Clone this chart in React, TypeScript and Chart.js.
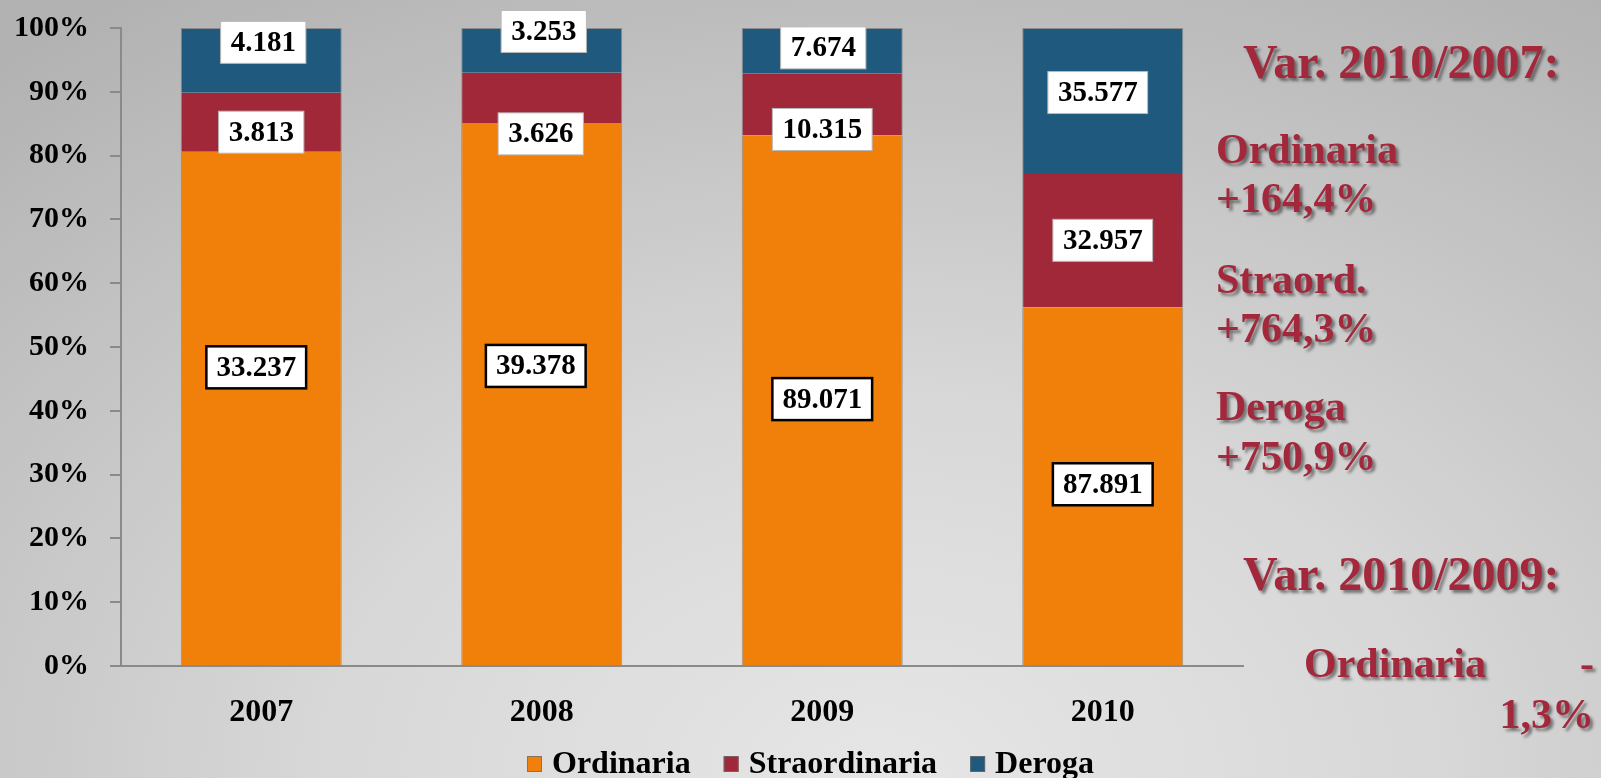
import React, { useEffect, useRef } from 'react';
import { Chart, registerables } from 'chart.js';

Chart.register(...registerables);

// ---- data ----
const categories = ['2007', '2008', '2009', '2010'];
const seriesNames = ['Ordinaria', 'Straordinaria', 'Deroga'];
const ordinaria = [33237, 39378, 89071, 87891];
const straordinaria = [3813, 3626, 10315, 32957];
const deroga = [4181, 3253, 7674, 35577];
const seriesColors = ['#F0800A', '#A02838', '#1F5A7E'];

const noteTitle1 = 'Var. 2010/2007:';
const noteItems1 = [
  ['Ordinaria', '+164,4%'],
  ['Straord.', '+764,3%'],
  ['Deroga', '+750,9%'],
];
const noteTitle2 = 'Var. 2010/2009:';
const noteItem2 = ['Ordinaria', '-', '1,3%'];

const SERIF = '"Liberation Serif", "Times New Roman", serif';

function fmt(v: number) {
  return String(v).replace(/\B(?=(\d{3})+(?!\d))/g, '.');
}

const rawSeries = [ordinaria, straordinaria, deroga];
const totals = categories.map((_, i) => ordinaria[i] + straordinaria[i] + deroga[i]);

const valueLabelPlugin = {
  id: 'valueLabels',
  afterDatasetsDraw(chart: any, _args: any, opts: any) {
    const ctx = chart.ctx;
    const nudgeX = opts.nudgeX || [];
    const nudgeY = opts.nudgeY || [];
    ctx.save();
    ctx.font = 'bold 29px ' + SERIF;
    ctx.textAlign = 'center';
    ctx.textBaseline = 'middle';
    chart.data.datasets.forEach((ds: any, d: number) => {
      const meta = chart.getDatasetMeta(d);
      meta.data.forEach((el: any, i: number) => {
        const txt = fmt(ds.rawValues[i]);
        const cx = el.x + ((nudgeX[d] && nudgeX[d][i]) || 0);
        const cy = (el.y + el.base) / 2 + ((nudgeY[d] && nudgeY[d][i]) || 0);
        const w = ctx.measureText(txt).width + 20;
        const h = 42;
        ctx.fillStyle = '#ffffff';
        ctx.fillRect(cx - w / 2, cy - h / 2, w, h);
        if (d === 0) {
          ctx.strokeStyle = '#000000';
          ctx.lineWidth = 2.5;
        } else {
          ctx.strokeStyle = '#b8b8b8';
          ctx.lineWidth = 1;
        }
        ctx.strokeRect(cx - w / 2, cy - h / 2, w, h);
        ctx.fillStyle = '#000000';
        ctx.fillText(txt, cx, cy + 1);
      });
    });
    ctx.restore();
  },
};

const legendPlugin = {
  id: 'customLegend',
  afterDraw(chart: any, _args: any, opts: any) {
    const ctx = chart.ctx;
    ctx.save();
    ctx.font = 'bold 32px ' + SERIF;
    ctx.textBaseline = 'alphabetic';
    ctx.textAlign = 'left';
    let x = opts.x;
    const y = opts.y;
    chart.data.datasets.forEach((ds: any) => {
      ctx.fillStyle = ds.backgroundColor;
      ctx.fillRect(x, y - 17, 15, 16);
      ctx.strokeStyle = 'rgba(110,110,110,0.8)';
      ctx.lineWidth = 1;
      ctx.strokeRect(x + 0.5, y - 16.5, 14, 15);
      x += 25;
      ctx.fillStyle = '#000';
      ctx.fillText(ds.label, x, y);
      x += ctx.measureText(ds.label).width + 33;
    });
    ctx.restore();
  },
};

const notesPlugin = {
  id: 'notes',
  afterDraw(chart: any) {
    const ctx = chart.ctx;
    ctx.save();
    ctx.fillStyle = '#A3283B';
    ctx.shadowColor = 'rgba(0,0,0,0.45)';
    ctx.shadowOffsetX = 3;
    ctx.shadowOffsetY = 3;
    ctx.shadowBlur = 3;
    ctx.textBaseline = 'alphabetic';
    ctx.textAlign = 'left';
    ctx.font = 'bold 48px ' + SERIF;
    ctx.fillText(noteTitle1, 1243, 78);
    ctx.font = 'bold 42px ' + SERIF;
    const bases = [[163, 212], [293, 342], [420, 470]];
    noteItems1.forEach((pair, k) => {
      ctx.fillText(pair[0], 1216, bases[k][0]);
      ctx.fillText(pair[1], 1216, bases[k][1]);
    });
    ctx.font = 'bold 48px ' + SERIF;
    ctx.fillText(noteTitle2, 1243, 590);
    ctx.font = 'bold 42px ' + SERIF;
    ctx.fillText(noteItem2[0], 1304, 677);
    ctx.textAlign = 'right';
    ctx.fillText(noteItem2[1], 1594, 677);
    ctx.fillText(noteItem2[2], 1594, 728);
    ctx.restore();
  },
};

export default function App() {
  const canvasRef = useRef<HTMLCanvasElement | null>(null);

  useEffect(() => {
    const canvas = canvasRef.current;
    if (!canvas) return;
    const datasets = rawSeries.map((vals, d) => ({
      label: seriesNames[d],
      data: vals.map((v, i) => (v / totals[i]) * 100),
      rawValues: vals,
      backgroundColor: seriesColors[d],
      borderColor: 'rgba(120,120,120,0.7)',
      borderWidth: { left: 1, right: 1, top: d === 2 ? 1 : 0, bottom: 0 },
      borderSkipped: false,
      categoryPercentage: 1,
      barPercentage: 0.574,
    }));

    const chart = new Chart(canvas, {
      type: 'bar',
      data: { labels: categories, datasets: datasets as any },
      plugins: [valueLabelPlugin, legendPlugin, notesPlugin],
      options: {
        animation: false,
        responsive: false,
        devicePixelRatio: 1,
        layout: { padding: { left: 0, top: 28, right: 358, bottom: 0 } },
        plugins: {
          legend: { display: false },
          tooltip: { enabled: false },
          valueLabels: {
            nudgeX: [
              [-5, -6, 0, 0],
              [0, -1, 0, 0],
              [2, 2, 1, -5],
            ],
            nudgeY: [
              [-41, -28, -1, -2],
              [10, 36, 25, 0],
              [-18, -19, -3, -8],
            ],
          },
          customLegend: { x: 527, y: 773 },
        } as any,
        scales: {
          x: {
            stacked: true,
            grid: { display: false, drawTicks: false },
            border: { display: true, color: '#8a8a8a', width: 2 },
            ticks: {
              color: '#000',
              padding: 28,
              font: { family: SERIF, size: 32, weight: 'bold' },
            },
            afterFit(axis: any) {
              axis.height = 112;
            },
          },
          y: {
            stacked: true,
            min: 0,
            max: 100,
            grid: {
              display: true,
              drawOnChartArea: false,
              drawTicks: true,
              tickLength: 11,
              color: '#8a8a8a',
              lineWidth: 2,
            },
            border: { display: true, color: '#8a8a8a', width: 2 },
            ticks: {
              stepSize: 10,
              color: '#000',
              padding: 21,
              font: { family: SERIF, size: 30, weight: 'bold' },
              callback: (v: any) => v + '%',
            },
            afterFit(axis: any) {
              axis.width = 121;
              axis.paddingTop = 0;
              axis.paddingBottom = 0;
            },
          },
        },
      } as any,
    });
    return () => chart.destroy();
  }, []);

  return (
    <div
      style={{
        position: 'fixed',
        left: 0,
        top: 0,
        width: 1601,
        height: 778,
        overflow: 'hidden',
        background:
          'radial-gradient(ellipse 85% 120% at 55% 100%, #e6e6e6 0%, #d8d8d8 40%, #c2c2c2 75%, #b2b2b2 100%)',
      }}
    >
      <canvas ref={canvasRef} width={1601} height={778} style={{ display: 'block' }} />
    </div>
  );
}
